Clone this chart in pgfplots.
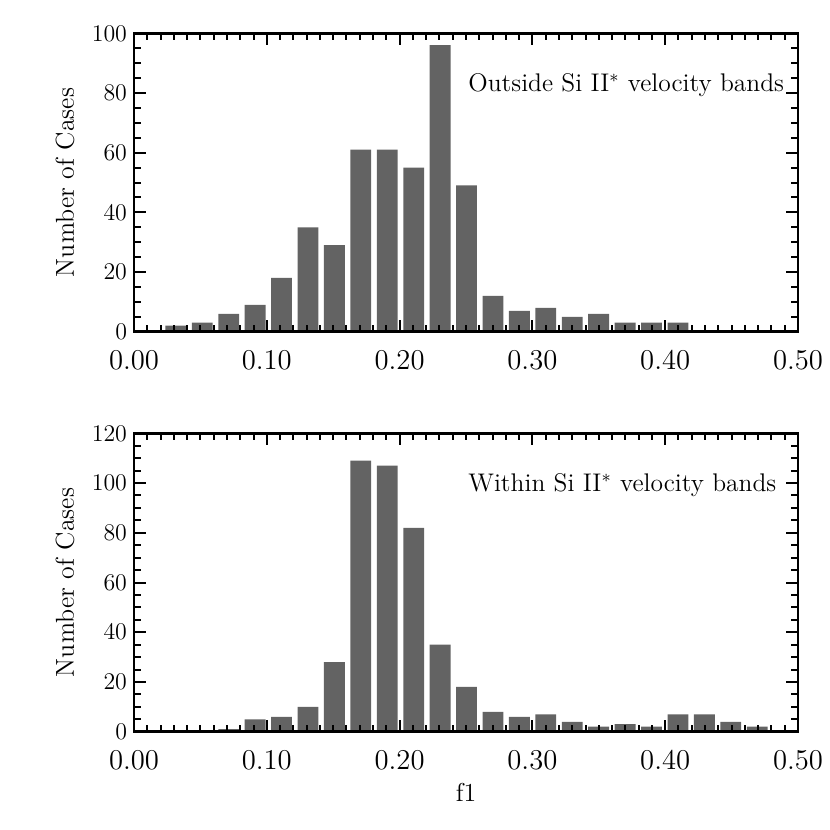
\documentclass[border=0pt]{standalone}
\usepackage{pgfplots}
\pgfplotsset{compat=1.18}
\definecolor{bargray}{RGB}{99,99,99}

\pgfplotsset{
  histo/.style={
    ybar, bar width=0.0157,
    scale only axis, clip=false,
    width=332bp, height=149.2bp,
    xmin=0, xmax=0.5,
    ymin=0,
    xtick={0,0.1,0.2,0.3,0.4,0.5},
    minor x tick num=9,
    ytick distance=20,
    minor y tick num=3,
    major tick length=6bp,
    minor tick length=3.3bp,
    axis line style={line width=1.3bp},
    major tick style={black, line width=1bp},
    minor tick style={black, line width=1bp},
    xticklabel style={/pgf/number format/fixed,
      /pgf/number format/fixed zerofill,
      /pgf/number format/precision=2,
      yshift=-6bp, font=\fontsize{14}{16}\selectfont},
    yticklabel style={font=\fontsize{11.5}{13}\selectfont},
    axis on top,
    tick align=inside,
  },
  histobar/.style={fill=bargray, draw=none},
}
\tikzset{lab/.style={font=\fontsize{13}{15}\selectfont, inner sep=0pt}}

\begin{document}
\begin{tikzpicture}
\useasboundingbox (0,0) rectangle (415bp,-415bp);

% upper panel: outside the Si II* bands
\begin{axis}[histo, ymax=100, at={(67bp,-16.65bp)}, anchor=north west]
\addplot[histobar] coordinates {
  (0.0315,2) (0.0514,3) (0.0713,6) (0.0912,9) (0.1111,18)
  (0.1310,35) (0.1509,29) (0.1708,61) (0.1907,61) (0.2106,55)
  (0.2305,96) (0.2504,49) (0.2703,12) (0.2902,7) (0.3101,8)
  (0.3300,5) (0.3499,6) (0.3698,3) (0.3897,3) (0.4096,3)
};
\node[lab, anchor=west, font=\fontsize{12.8}{15}\selectfont] at (axis cs:0.2515,82.7)
  {Outside Si II$^{*}$ velocity bands};
\node[lab, xshift=-34.5bp, rotate=90] at (rel axis cs:0,0.5) {Number of Cases};
\end{axis}

% lower panel: within the Si II* bands
\begin{axis}[histo, ymax=120, at={(67bp,-216.65bp)}, anchor=north west]
\addplot[histobar] coordinates {
  (0.0713,1) (0.0912,5) (0.1111,6) (0.1310,10) (0.1509,28)
  (0.1708,109) (0.1907,107) (0.2106,82) (0.2305,35) (0.2504,18)
  (0.2703,8) (0.2902,6) (0.3101,7) (0.3300,4) (0.3499,2)
  (0.3698,3) (0.3897,2) (0.4096,7) (0.4295,7) (0.4494,4) (0.4693,2)
};
\node[lab, anchor=west, font=\fontsize{12.8}{15}\selectfont] at (axis cs:0.2515,99.2)
  {Within Si II$^{*}$ velocity bands};
\node[lab, xshift=-34.5bp, rotate=90] at (rel axis cs:0,0.5) {Number of Cases};
\node[lab] at (axis description cs:0.5,-0.205) {f1};
\end{axis}
\end{tikzpicture}
\end{document}
